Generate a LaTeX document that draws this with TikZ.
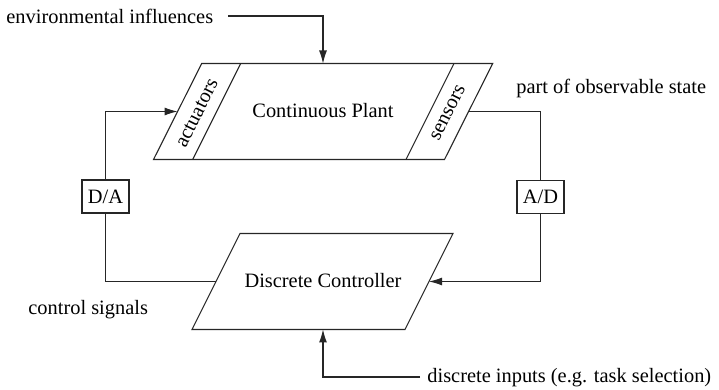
\documentclass[tikz,border=0pt]{standalone}
\usepackage{fontspec}
\setmainfont{Liberation Serif}
\usetikzlibrary{arrows.meta,calc}
\begin{document}
\begin{tikzpicture}[x=0.5pt,y=-0.5pt,
  every node/.style={font=\rmfamily\fontsize{10.2}{12}\selectfont, inner sep=0pt},
  ln/.style={line width=0.55pt, draw=black!85},
  arr/.style={ln,-{Latex[length=6.5pt,width=4pt]}},
  conv/.style={draw=black!85, line width=0.55pt, minimum width=23.5pt, minimum height=16.5pt},
  lbl/.style={anchor=west}]
\useasboundingbox (0,0) rectangle (719,390);
% plant corners
\coordinate (ptl) at (201.7,63.5);
\coordinate (ptr) at (492.7,63.5);
\coordinate (pbr) at (444.5,159.5);
\coordinate (pbl) at (153.5,159.5);
\coordinate (atop) at (240.7,63.5);
\coordinate (abot) at (192.7,159.5);
\coordinate (stop) at (454,63.5);
\coordinate (sbot) at (406,159.5);
\draw[ln] (ptl) -- (ptr) -- (pbr) -- (pbl) -- cycle;
\draw[ln] (atop) -- (abot);
\draw[ln] (stop) -- (sbot);
\coordinate (pL) at ($(pbl)!0.5!(ptl)$);
\coordinate (pR) at ($(pbr)!0.5!(ptr)$);
\coordinate (pT) at (323,63.5);
\node (plant) at (323,111) {Continuous Plant};
\node[rotate=63.4] (act) at (197,113) {actuators};
\node[rotate=63.4] (sen) at (448,113) {sensors};
% controller corners
\coordinate (ctl) at (240,233.5);
\coordinate (ctr) at (453,233.5);
\coordinate (cbr) at (405,329.5);
\coordinate (cbl) at (192,329.5);
\draw[ln] (ctl) -- (ctr) -- (cbr) -- (cbl) -- cycle;
\coordinate (cL) at ($(cbl)!0.5!(ctl)$);
\coordinate (cR) at ($(cbr)!0.5!(ctr)$);
\coordinate (cB) at (323,329.5);
\node (ctrl) at (323,281) {Discrete Controller};
% converters
\node[conv] (da) at (105.5,196.5) {D/A};
\node[conv] (ad) at (540.5,197) {A/D};
% loops
\draw[arr] (da.north) |- (pL);
\draw[ln] (cL) -| (da.south);
\draw[ln] (pR) -| (ad.north);
\draw[arr] (ad.south) |- (cR);
% labels
\node[lbl] (env) at (6,16) {environmental influences};
\coordinate (envs) at (228,16);
\draw[arr] (envs) -| (pT);
\node[lbl] (obs) at (516,88) {part of observable state};
\node[lbl] (cs) at (28,310) {control signals};
\node[lbl] (din) at (427,378) {discrete inputs (e.g. task selection)};
\coordinate (dins) at (420,377);
\draw[arr] (dins) -| (cB);
\end{tikzpicture}
\end{document}
